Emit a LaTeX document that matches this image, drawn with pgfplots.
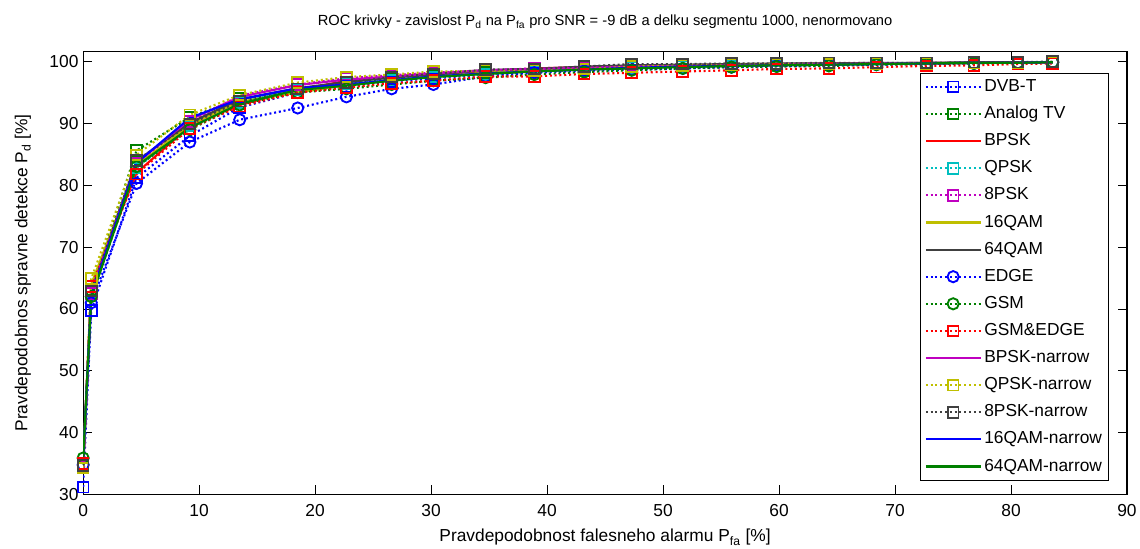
\documentclass[border=0pt]{standalone}
\usepackage{fontspec}
\setmainfont{Liberation Sans}
\usepackage{pgfplots}
\usepackage{pgfplotstable}
\pgfplotsset{compat=1.18}
\definecolor{mB}{rgb}{0,0,1}
\definecolor{mG}{rgb}{0,0.5,0}
\definecolor{mR}{rgb}{1,0,0}
\definecolor{mC}{rgb}{0,0.75,0.75}
\definecolor{mM}{rgb}{0.75,0,0.75}
\definecolor{mY}{rgb}{0.75,0.75,0}
\definecolor{mK}{rgb}{0.25,0.25,0.25}
\pgfplotstableread{
x dvbt analog bpsk qpsk epsk qa qb edge gsm gsmedge bpskn qpskn epskn qan qbn
0    31.2 35.0 34.8 34.6 34.5 34.2 34.6 34.8 35.9 35.0 34.0 34.3 34.7 35.5 35.8
0.7  59.8 63.2 63.8 62.8 62.5 64.0 62.6 61.0 62.0 63.6 62.8 64.9 62.9 62.2 61.8
4.6  81.2 85.6 82.0 82.8 83.5 83.2 83.9 80.3 83.0 81.8 83.6 84.9 84.0 83.6 83.1
9.2  88.0 91.0 89.6 89.6 90.3 89.8 90.1 87.0 89.0 89.2 90.6 91.4 89.9 90.9 89.3
13.5 92.6 94.0 93.0 93.4 94.5 93.5 93.9 90.6 93.0 92.8 94.3 94.6 93.6 93.9 93.2
18.5 95.0 95.6 95.4 95.5 96.3 95.0 95.7 92.5 95.0 95.0 96.2 96.6 95.6 95.7 95.4
22.7 96.0 96.6 96.9 96.4 97.3 96.2 96.7 94.3 95.6 95.8 97.1 97.5 96.6 96.3 96.1
26.6 96.8 97.2 97.6 97.0 97.8 97.0 97.4 95.6 96.3 96.5 97.6 97.9 97.5 97.0 96.9
30.2 97.3 97.8 98.0 97.5 98.2 97.6 97.9 96.3 96.9 96.9 98.1 98.4 98.0 97.6 97.5
34.7 97.9 98.2 98.4 97.9 98.6 98.2 98.6 97.6 97.4 97.6 98.6 98.5 98.7 98.1 98.0
38.9 98.3 98.5 98.9 98.4 98.9 98.5 98.8 98.2 97.9 97.6 98.8 98.5 98.8 98.4 98.4
43.2 98.7 98.8 99.1 98.8 99.1 98.8 99.2 98.5 98.3 98.0 99.0 98.8 99.2 98.7 98.7
47.3 99.0 99.0 99.3 99.0 99.3 99.1 99.4 98.7 98.6 98.2 99.2 99.2 99.6 99.0 98.9
51.7 99.2 99.2 99.4 99.2 99.4 99.3 99.5 98.9 98.9 98.4 99.3 99.4 99.6 99.2 99.1
55.9 99.3 99.3 99.5 99.3 99.5 99.4 99.6 99.1 99.1 98.6 99.4 99.5 99.7 99.3 99.3
59.8 99.4 99.4 99.6 99.4 99.6 99.5 99.7 99.3 99.2 98.8 99.5 99.6 99.7 99.4 99.4
64.3 99.5 99.5 99.7 99.5 99.7 99.6 99.7 99.4 99.3 98.9 99.6 99.6 99.8 99.5 99.5
68.4 99.6 99.6 99.7 99.6 99.7 99.7 99.8 99.5 99.5 99.1 99.7 99.7 99.8 99.6 99.6
72.7 99.7 99.7 99.8 99.7 99.8 99.7 99.8 99.6 99.6 99.3 99.7 99.7 99.8 99.7 99.7
76.8 99.8 99.8 99.8 99.8 99.8 99.8 99.9 99.7 99.7 99.4 99.8 99.8 99.9 99.8 99.8
80.6 99.8 99.8 99.9 99.8 99.9 99.8 99.9 99.8 99.8 99.6 99.8 99.8 99.9 99.8 99.8
83.6 99.9 99.9 99.9 99.9 99.9 99.9 99.9 99.9 99.9 99.7 99.9 99.9 100 99.9 99.9
}\data
\tikzset{
  dotl/.style={line width=1.6pt, dash pattern=on 1.5pt off 2.1pt},
  soll/.style={line width=1.6pt},
  sqm/.style={mark=square, mark size=4pt, mark options={solid, line width=1.4pt}},
  cim/.style={mark=o, mark size=4.2pt, mark options={solid, line width=1.4pt}},
}
\begin{document}
\begin{tikzpicture}
\begin{axis}[
  at={(0,0)}, anchor=south west,
  scale only axis, width=781.5pt, height=332pt,
  xmin=0, xmax=90, ymin=30, ymax=101.7,
  xtick={0,10,...,90}, ytick={30,40,...,100},
  tick align=inside, major tick length=7pt,
  axis line style={line width=0.8pt}, tick style={line width=0.6pt, black},
  /pgf/number format/assume math mode=true,
  tick label style={font=\fontsize{13}{15}\selectfont},
  xticklabel shift=3.5pt,
  label style={font=\fontsize{13}{15}\selectfont},
  xlabel shift=3pt, ylabel shift=7pt,
  title style={font=\fontsize{11}{13}\selectfont, yshift=7pt},
  title={ROC krivky - zavislost P\textsubscript{d} na P\textsubscript{fa} pro SNR = -9 dB a delku segmentu 1000, nenormovano},
  xlabel={Pravdepodobnost falesneho alarmu P\textsubscript{fa} [\%]},
  ylabel={Pravdepodobnos spravne detekce P\textsubscript{d} [\%]},
  legend cell align=left,
  legend image code/.code={\draw[mark repeat=2,mark phase=2,#1] plot coordinates {(0pt,0pt) (20.5pt,0pt) (41pt,0pt)};},
  legend style={at={(1,1)}, anchor=north east, xshift=-13.5pt, yshift=-16.5pt,
    draw=black, font=\fontsize{13}{15}\selectfont, row sep=4.1pt,
    nodes={inner sep=2pt, text height=9.5pt, text depth=2.7pt}},
]
\addplot[mB, dotl, sqm] table[x=x, y=dvbt] {\data};
\addlegendentry{DVB-T}
\addplot[mG, dotl, sqm] table[x=x, y=analog] {\data};
\addlegendentry{Analog TV}
\addplot[mR, soll] table[x=x, y=bpsk] {\data};
\addlegendentry{BPSK}
\addplot[mC, dotl, sqm] table[x=x, y=qpsk] {\data};
\addlegendentry{QPSK}
\addplot[mM, dotl, sqm] table[x=x, y=epsk] {\data};
\addlegendentry{8PSK}
\addplot[mY, soll] table[x=x, y=qa] {\data};
\addlegendentry{16QAM}
\addplot[mK, soll] table[x=x, y=qb] {\data};
\addlegendentry{64QAM}
\addplot[mB, dotl, cim] table[x=x, y=edge] {\data};
\addlegendentry{EDGE}
\addplot[mG, dotl, cim] table[x=x, y=gsm] {\data};
\addlegendentry{GSM}
\addplot[mR, dotl, sqm] table[x=x, y=gsmedge] {\data};
\addlegendentry{GSM\&EDGE}
\addplot[mM, soll] table[x=x, y=bpskn] {\data};
\addlegendentry{BPSK-narrow}
\addplot[mY, dotl, sqm] table[x=x, y=qpskn] {\data};
\addlegendentry{QPSK-narrow}
\addplot[mK, dotl, sqm] table[x=x, y=epskn] {\data};
\addlegendentry{8PSK-narrow}
\addplot[mB, soll] table[x=x, y=qan] {\data};
\addlegendentry{16QAM-narrow}
\addplot[mG, soll] table[x=x, y=qbn] {\data};
\addlegendentry{64QAM-narrow}
\end{axis}
\pgfresetboundingbox
\path (-62.25pt,-40.5pt) rectangle (791.25pt,370.25pt);
\end{tikzpicture}
\end{document}
